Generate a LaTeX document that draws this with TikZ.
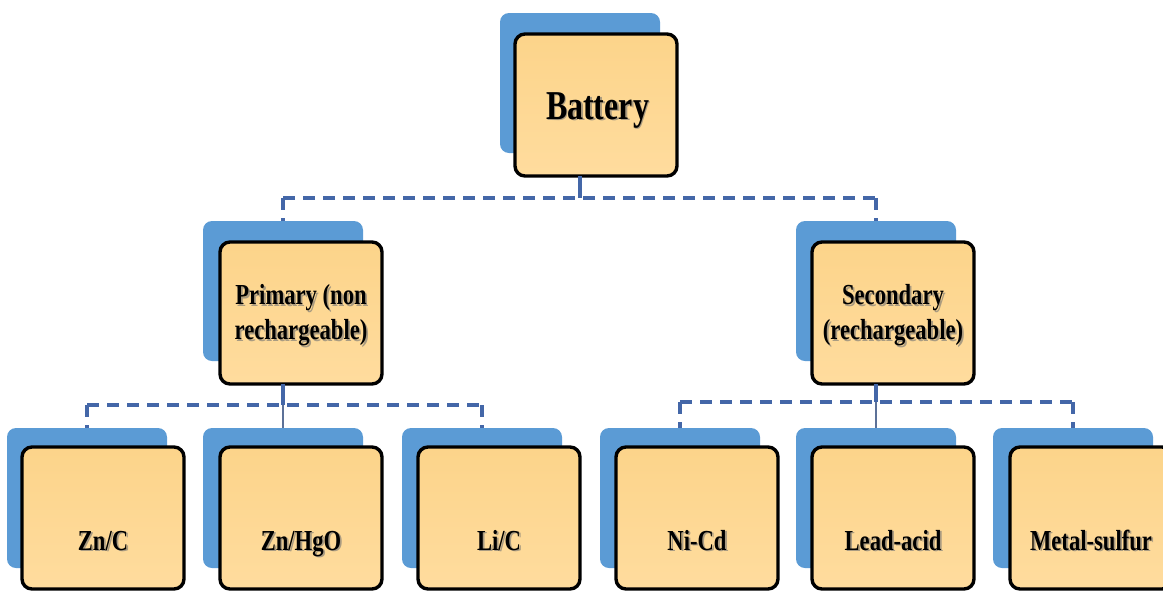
\documentclass[tikz,border=0pt]{standalone}
\usepackage{fontspec}
\newfontfamily\labfont[FakeStretch=0.78]{Liberation Serif}
\usetikzlibrary{calc}
\definecolor{backblue}{HTML}{5B9BD5}
\definecolor{linkblue}{HTML}{4467A8}
\definecolor{boxtop}{HTML}{FCD48A}
\definecolor{boxbot}{HTML}{FFDC9E}
\tikzset{
  back/.style={fill=backblue, rounded corners=9pt, minimum width=160pt, minimum height=140pt, inner sep=0pt, outer sep=0pt},
  front/.style={draw=black, line width=3.4pt, top color=boxtop, bottom color=boxbot, rounded corners=10pt, minimum width=162pt, minimum height=142pt, inner sep=0pt, outer sep=0pt},
  lbl/.style={font=\labfont\bfseries\fontsize{29}{35}\selectfont, align=center, inner sep=0pt, text=black},
  biglbl/.style={font=\labfont\bfseries\fontsize{41}{44}\selectfont},
  shadowtxt/.style={text=black!55, opacity=0.6},
  conn/.style={draw=linkblue, line width=3.4pt, dash pattern=on 12pt off 8pt},
  stem/.style={draw=linkblue, line width=3.4pt},
  drop/.style={draw=linkblue!60!gray, line width=1.2pt},
}
% name, blue-left, blue-top, orange-left, orange-top
\newcommand\bxpair[5]{%
  \node[back] (b-#1) at (#2+80, #3+70) {};
  \node[front] (o-#1) at (#4+81, #5+71) {};
}
% [opts]{name}{pos}{text}
\newcommand\lbltext[4][]{%
  \node[lbl, #1, shadowtxt] (#2-sh) at ($(#3)+(1.8,1.8)$) {#4};
  \node[lbl, #1] (#2) at (#3) {#4};
}
\begin{document}
\begin{tikzpicture}[x=1pt, y=-1pt]
\useasboundingbox (0,0) rectangle (1163,590);
\clip (0,0) rectangle (1163,590);

% boxes
\bxpair{bat}{500}{13}{515}{34}
\bxpair{pri}{203}{221}{220}{242}
\bxpair{sec}{796}{221}{812}{242}
\bxpair{zc}{7}{428}{22}{447}
\bxpair{zh}{203}{428}{220}{447}
\bxpair{lc}{402}{428}{418}{447}
\bxpair{nc}{600}{428}{616}{447}
\bxpair{la}{796}{428}{812}{447}
\bxpair{ms}{993}{428}{1010}{447}

% text
\coordinate (batbase) at (597.5,119);
\coordinate (rowbase) at (0,550);
\lbltext[biglbl, anchor=base]{t-bat}{batbase}{Battery}
\lbltext{t-pri}{$(o-pri.center)+(0,2)$}{Primary (non\\rechargeable)}
\lbltext{t-sec}{$(o-sec.center)+(0,2)$}{Secondary\\(rechargeable)}
\lbltext[anchor=base]{t-zc}{o-zc.center |- rowbase}{Zn/C}
\lbltext[anchor=base]{t-zh}{o-zh.center |- rowbase}{Zn/HgO}
\lbltext[anchor=base]{t-lc}{o-lc.center |- rowbase}{Li/C}
\lbltext[anchor=base]{t-nc}{o-nc.center |- rowbase}{Ni-Cd}
\lbltext[anchor=base]{t-la}{o-la.center |- rowbase}{Lead-acid}
\lbltext[anchor=base]{t-ms}{o-ms.center |- rowbase}{Metal-sulfur}

% connectors
\coordinate (bus1) at (0,198);
\coordinate (bus2) at (0,405);
\coordinate (bus3) at (0,402);

\draw[stem] (b-bat.center |- o-bat.south) -- (b-bat.center |- bus1);
\draw[conn] (b-pri.north |- bus1) -- (b-sec.north |- bus1);
\draw[conn] (b-pri.north |- bus1) -- (b-pri.north);
\draw[conn] (b-sec.north |- bus1) -- (b-sec.north);

\draw[stem] (b-pri.center |- o-pri.south) -- (b-pri.center |- bus2);
\draw[conn] (b-zc.north |- bus2) -- (b-lc.north |- bus2);
\draw[conn] (b-zc.north |- bus2) -- (b-zc.north);
\draw[drop] (b-zh.north |- bus2) -- (b-zh.north);
\draw[conn] (b-lc.north |- bus2) -- (b-lc.north);

\draw[stem] (b-sec.center |- o-sec.south) -- (b-sec.center |- bus3);
\draw[conn] (b-nc.north |- bus3) -- (b-ms.north |- bus3);
\draw[conn] (b-nc.north |- bus3) -- (b-nc.north);
\draw[drop] (b-la.north |- bus3) -- (b-la.north);
\draw[conn] (b-ms.north |- bus3) -- (b-ms.north);
\end{tikzpicture}
\end{document}
